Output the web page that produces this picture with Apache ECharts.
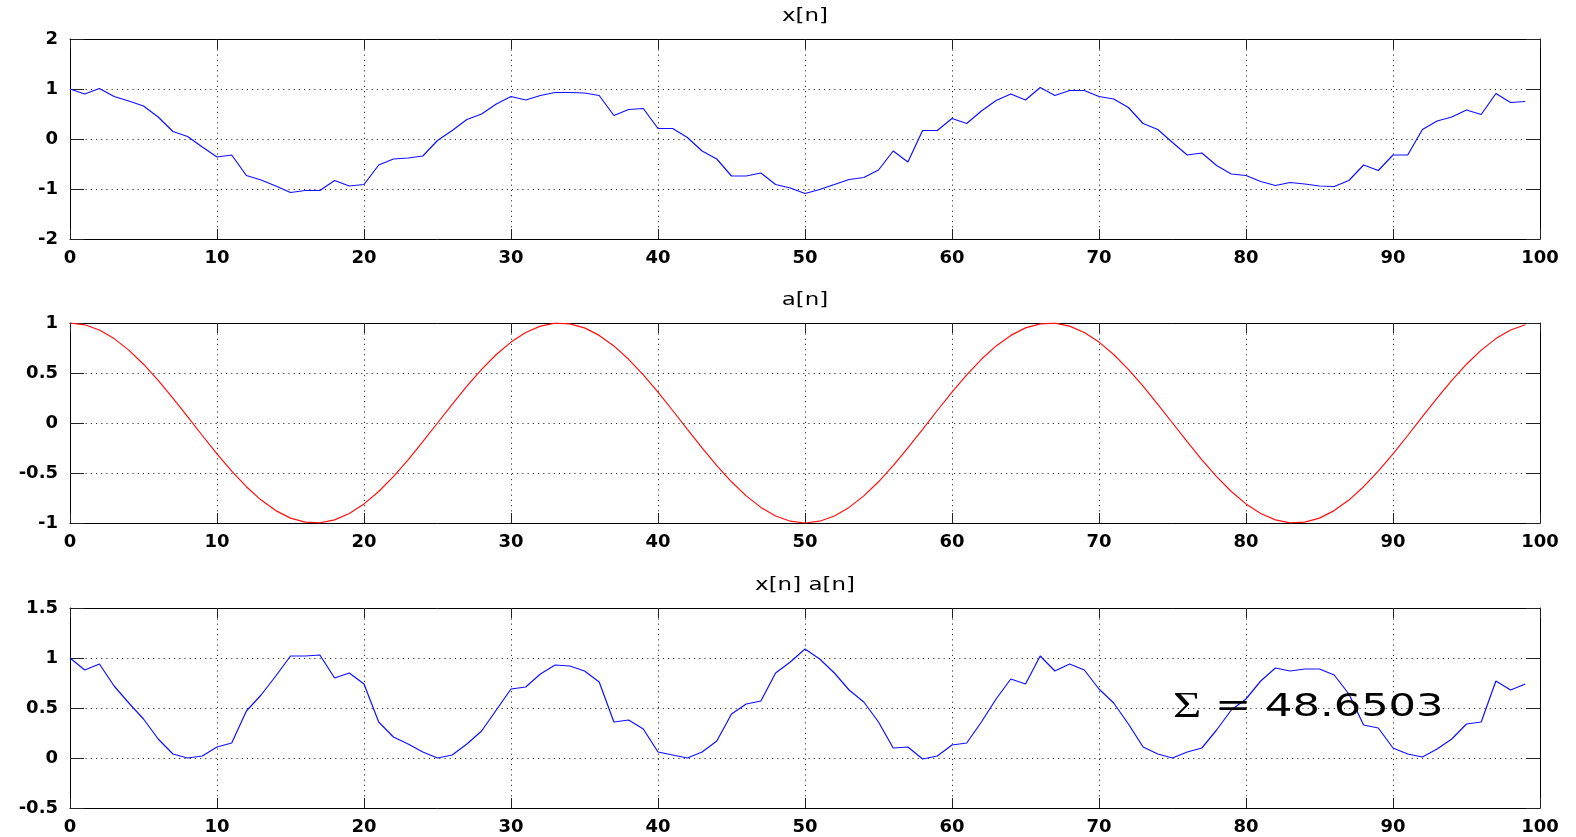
<!DOCTYPE html>
<html>
<head>
<meta charset="utf-8">
<title>x[n] a[n]</title>
<script src="https://cdn.jsdelivr.net/npm/echarts@6/dist/echarts.min.js"></script>
<style>
  html, body { margin: 0; padding: 0; background: #fff; }
  #main { width: 1576px; height: 837px; }
</style>
</head>
<body>
<div id="main"></div>
<script>
// x[n], n = 0..99
const xn = [
  1.00, 0.90, 1.01, 0.85, 0.76, 0.66, 0.44, 0.15, 0.05, -0.16,
  -0.36, -0.32, -0.73, -0.82, -0.94, -1.07, -1.03, -1.03, -0.83, -0.94,
  -0.91, -0.52, -0.40, -0.38, -0.34, -0.03, 0.17, 0.39, 0.50, 0.70,
  0.85, 0.78, 0.87, 0.93, 0.93, 0.92, 0.87, 0.47, 0.59, 0.61,
  0.21, 0.21, 0.03, -0.24, -0.40, -0.74, -0.74, -0.68, -0.91, -0.98,
  -1.09, -1.01, -0.91, -0.81, -0.77, -0.62, -0.24, -0.46, 0.17, 0.17,
  0.41, 0.31, 0.56, 0.77, 0.90, 0.78, 1.03, 0.87, 0.97, 0.97,
  0.85, 0.80, 0.63, 0.31, 0.19, -0.07, -0.32, -0.28, -0.53, -0.70,
  -0.73, -0.85, -0.93, -0.87, -0.90, -0.94, -0.95, -0.83, -0.52, -0.63,
  -0.32, -0.32, 0.19, 0.36, 0.44, 0.58, 0.49, 0.91, 0.73, 0.75
];
// a[n] (red curve, middle plot)
const an = [
  1.000, 0.982, 0.930, 0.844, 0.729, 0.588, 0.426, 0.249, 0.063, -0.125,
  -0.309, -0.482, -0.637, -0.771, -0.876, -0.951, -0.992, -0.998, -0.969, -0.905,
  -0.809, -0.685, -0.536, -0.368, -0.187, 0.000, 0.187, 0.368, 0.536, 0.685,
  0.809, 0.905, 0.969, 0.998, 0.992, 0.951, 0.876, 0.771, 0.637, 0.482,
  0.309, 0.125, -0.063, -0.249, -0.426, -0.588, -0.729, -0.844, -0.930, -0.982,
  -1.000, -0.982, -0.930, -0.844, -0.729, -0.588, -0.426, -0.249, -0.063, 0.125,
  0.309, 0.482, 0.637, 0.771, 0.876, 0.951, 0.992, 0.998, 0.969, 0.905,
  0.809, 0.685, 0.536, 0.368, 0.187, 0.000, -0.187, -0.368, -0.536, -0.685,
  -0.809, -0.905, -0.969, -0.998, -0.992, -0.951, -0.876, -0.771, -0.637, -0.482,
  -0.309, -0.125, 0.063, 0.249, 0.426, 0.588, 0.729, 0.844, 0.930, 0.982
];
// x[n] a[n] (bottom plot)
const xan = [
  1.00, 0.88, 0.94, 0.72, 0.55, 0.39, 0.19, 0.04, 0.00, 0.02,
  0.11, 0.15, 0.47, 0.63, 0.82, 1.02, 1.02, 1.03, 0.80, 0.85,
  0.74, 0.36, 0.21, 0.14, 0.06, 0.00, 0.03, 0.14, 0.27, 0.48,
  0.69, 0.71, 0.84, 0.93, 0.92, 0.87, 0.76, 0.36, 0.38, 0.29,
  0.06, 0.03, 0.00, 0.06, 0.17, 0.44, 0.54, 0.57, 0.85, 0.96,
  1.09, 0.99, 0.85, 0.68, 0.56, 0.36, 0.10, 0.11, -0.01, 0.02,
  0.13, 0.15, 0.36, 0.59, 0.79, 0.74, 1.02, 0.87, 0.94, 0.88,
  0.69, 0.55, 0.34, 0.11, 0.04, 0.00, 0.06, 0.10, 0.28, 0.48,
  0.59, 0.77, 0.90, 0.87, 0.89, 0.89, 0.83, 0.64, 0.33, 0.30,
  0.10, 0.04, 0.01, 0.09, 0.19, 0.34, 0.36, 0.77, 0.68, 0.74
];

const titles = ['x[n]', 'a[n]', 'x[n] a[n]'];
const xRange = [0, 100, 10];                       // min, max, interval
const yRanges = [[-2, 2, 1], [-1, 1, 0.5], [-0.5, 1.5, 0.5]];
const lineColors = ['#1010ff', '#ff1010', '#1010ff'];
const sumLabel = '48.6503';

/************** layout *****************/
const plotLeft = 70;
const plotWidth = 1470;
const plotHeight = 200;
const plotTops = [39, 323, 608];
const labelFont = { color: '#000', fontFamily: 'DejaVu Sans', fontWeight: 'bold', fontSize: 18 };
const dotted = { color: '#333', width: 1, type: [1.2, 4] };
const frame = { show: true, onZero: false, lineStyle: { color: '#000', width: 1 } };

const grid = [];
const xAxis = [];
const yAxis = [];
const series = [];
const graphic = [];

const allData = [xn, an, xan];
allData.forEach((vals, i) => {
  grid.push({ left: plotLeft, top: plotTops[i], width: plotWidth, height: plotHeight });

  // bottom + top x axes (top one only gives the frame + inward ticks)
  xAxis.push({
    gridIndex: i, type: 'value', position: 'bottom',
    min: xRange[0], max: xRange[1], interval: xRange[2],
    axisLine: frame,
    axisTick: { show: true, inside: true, length: 10, lineStyle: { color: '#222' } },
    axisLabel: Object.assign({ margin: 10 }, labelFont),
    splitLine: { show: true, lineStyle: dotted }
  });
  xAxis.push({
    gridIndex: i, type: 'value', position: 'top',
    min: xRange[0], max: xRange[1], interval: xRange[2],
    axisLine: frame,
    axisTick: { show: true, inside: true, length: 10, lineStyle: { color: '#222' } },
    axisLabel: { show: false },
    splitLine: { show: false }
  });

  const [ymin, ymax, ystep] = yRanges[i];
  yAxis.push({
    gridIndex: i, type: 'value', position: 'left',
    min: ymin, max: ymax, interval: ystep,
    axisLine: frame,
    axisTick: { show: true, inside: true, length: 14, lineStyle: { color: '#222' } },
    axisLabel: Object.assign({ margin: 12 }, labelFont),
    splitLine: { show: true, lineStyle: dotted }
  });
  yAxis.push({
    gridIndex: i, type: 'value', position: 'right',
    min: ymin, max: ymax, interval: ystep,
    axisLine: frame,
    axisTick: { show: true, inside: true, length: 14, lineStyle: { color: '#222' } },
    axisLabel: { show: false },
    splitLine: { show: false }
  });

  series.push({
    type: 'line',
    xAxisIndex: i * 2,
    yAxisIndex: i * 2,
    data: vals.map((v, n) => [n, v]),
    showSymbol: false,
    lineStyle: { color: lineColors[i], width: 1.2 },
    z: 5
  });

  // subplot titles, stretched wide like the original figure
  graphic.push({
    type: 'text',
    x: plotLeft + plotWidth / 2,
    y: plotTops[i] - 22,
    scaleX: 1.35,
    style: {
      text: titles[i],
      fill: '#000',
      font: '17px "DejaVu Sans"',
      textAlign: 'center',
      textVerticalAlign: 'middle'
    }
  });
});

// sum annotation on the bottom plot
graphic.push({
  type: 'text',
  x: 1173,
  y: 708,
  scaleX: 1.35,
  z: 10,
  style: {
    text: '{s|Σ} = ' + sumLabel,
    fill: '#000',
    font: '32px "DejaVu Sans"',
    textAlign: 'left',
    textVerticalAlign: 'middle',
    rich: {
      s: { fontFamily: 'Liberation Serif', fontSize: 36, fill: '#000' }
    }
  }
});

const chart = echarts.init(document.getElementById('main'));
chart.setOption({
  animation: false,
  backgroundColor: '#fff',
  grid: grid,
  xAxis: xAxis,
  yAxis: yAxis,
  series: series,
  graphic: graphic
});
</script>
</body>
</html>
